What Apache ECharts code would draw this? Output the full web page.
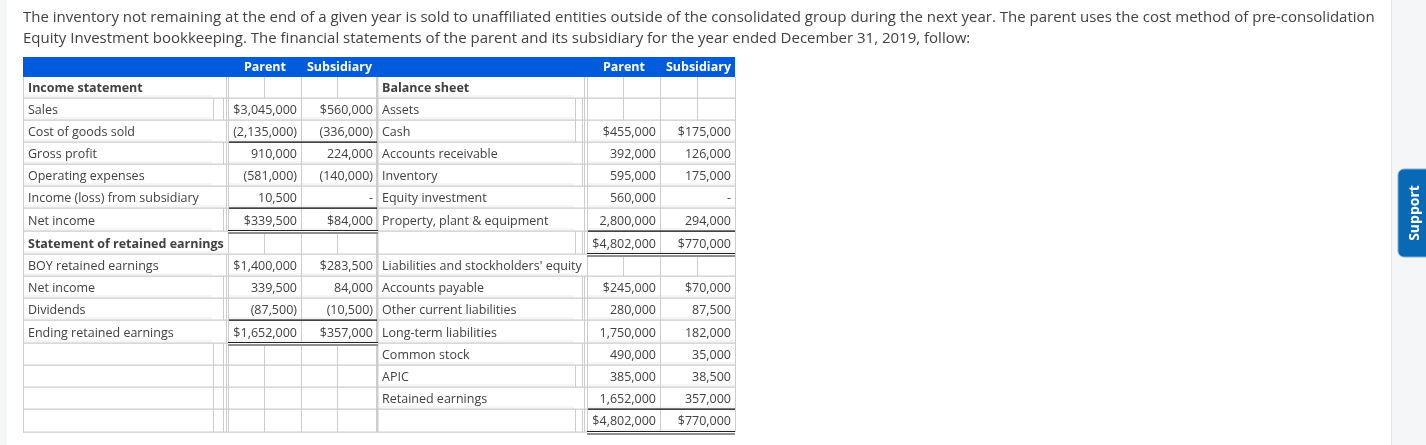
<!DOCTYPE html>
<html lang="en">
<head>
<meta charset="UTF-8">
<title>Consolidation worksheet</title>
<script src="https://cdn.jsdelivr.net/npm/echarts@6/dist/echarts.min.js"></script>
<style>
html, body { margin: 0; padding: 0; background: #fff; }
#main { width: 1426px; height: 445px; }
</style>
</head>
<body>
<div id="main"></div>
<script>
// table content
var introLines = [
    'The inventory not remaining at the end of a given year is sold to unaffiliated entities outside of the consolidated group during the next year. The parent uses the cost method of pre-consolidation',
    'Equity Investment bookkeeping. The financial statements of the parent and its subsidiary for the year ended December 31, 2019, follow:'
];
var headerLabels = ['Parent', 'Subsidiary', 'Parent', 'Subsidiary'];
var incomeLabels = ['Income statement', 'Sales', 'Cost of goods sold', 'Gross profit', 'Operating expenses', 'Income (loss) from subsidiary', 'Net income',
    'Statement of retained earnings', 'BOY retained earnings', 'Net income', 'Dividends', 'Ending retained earnings', '', '', '', ''];
var incomeParent = ['', '$3,045,000', '(2,135,000)', '910,000', '(581,000)', '10,500', '$339,500',
    '', '$1,400,000', '339,500', '(87,500)', '$1,652,000', '', '', '', ''];
var incomeSubsidiary = ['', '$560,000', '(336,000)', '224,000', '(140,000)', '-', '$84,000',
    '', '$283,500', '84,000', '(10,500)', '$357,000', '', '', '', ''];
var balanceLabels = ['Balance sheet', 'Assets', 'Cash', 'Accounts receivable', 'Inventory', 'Equity investment', 'Property, plant & equipment', '',
    "Liabilities and stockholders' equity", 'Accounts payable', 'Other current liabilities', 'Long-term liabilities', 'Common stock', 'APIC', 'Retained earnings', ''];
var balanceParent = ['', '', '$455,000', '392,000', '595,000', '560,000', '2,800,000', '$4,802,000',
    '', '$245,000', '280,000', '1,750,000', '490,000', '385,000', '1,652,000', '$4,802,000'];
var balanceSubsidiary = ['', '', '$175,000', '126,000', '175,000', '-', '294,000', '$770,000',
    '', '$70,000', '87,500', '182,000', '35,000', '38,500', '357,000', '$770,000'];
var supportLabel = 'Support';

// layout of the table, in page pixels
var rowEdges = [77, 98, 120, 142, 164, 186, 208, 231, 254, 276, 298, 320, 343, 365, 387, 409, 432];
var headerTop = 57;
var boldRows = [0, 7];
var leftExtra = [[226], [213, 223, 226], [226], [223, 226], [226], [226], [223, 226], [], [226], [223, 226], [223, 226], [226], [213, 223, 226], [213, 223, 226], [213, 223, 226], [213, 223, 226]];
var rightExtra = [[584], [575, 582, 584], [575, 582, 584], [582, 584], [582, 584], [584], [584], [575, 582, 584], [], [582, 584], [582, 584], [584], [582, 584], [575, 582, 584], [584], [575, 582, 584]];
var leftSubRows = [0, 7, 12, 13, 14, 15];
var rightSubRows = [0, 1, 8];
var singleRules = [[229, 377, 142], [229, 377, 208], [229, 377, 320], [588, 735, 231], [588, 735, 409]];
var doubleRules = [[228, 378, 231], [228, 378, 343], [587, 735, 254], [587, 735, 432]];

var GRID = '#cdcdcd', INK = '#414141', BAND = '#f6f6f6', BLUE = '#005cdc';
var FONT = '"Open Sans", sans-serif';

var rects = [];   // x, y, w, h, color
var texts = [];   // x, y, text, align, font

function addRect(x, y, w, h, c) { rects.push([x, y, w, h, c]); }
function addText(x, y, s, align, font) { if (s) texts.push([x, y, s, align, font]); }

addRect(23, headerTop, 712, rowEdges[0] - headerTop, BLUE);

rowEdges.slice(0, -1).forEach(function (rowTop, i) {
    var rowBottom = rowEdges[i + 1];
    // first and last rows sit a pixel higher than the others
    var mid = (rowTop + rowBottom) / 2 + (i === 0 || i === 15 ? 0.5 : 1.5);
    var font = boldRows.indexOf(i) >= 0 ? 'bold 12.5px ' + FONT : '12.5px ' + FONT;
    var plain = '12.5px ' + FONT;

    // faint band under cells that hold a value
    if (incomeLabels[i]) addRect(24, rowBottom - 3, (incomeLabels[i].length > 24 ? 203 : 188), 3, BAND);
    if (incomeParent[i]) { addRect(229, rowBottom - 3, 72, 3, BAND); addRect(302, rowBottom - 3, 75, 3, BAND); }
    if (balanceLabels[i]) addRect(379, rowBottom - 3, 195, 3, BAND);
    if (balanceParent[i]) { addRect(588, rowBottom - 3, 72, 3, BAND); addRect(661, rowBottom - 3, 74, 3, BAND); }

    // verticals
    [23, 228, 301, 587, 660, 735].concat(leftExtra[i], rightExtra[i]).forEach(function (x) {
        addRect(x, rowTop, 1, rowBottom - rowTop, GRID);
    });
    addRect(376, rowTop, 2.5, rowBottom - rowTop, GRID);
    if (leftSubRows.indexOf(i) >= 0) { addRect(264, rowTop, 1, rowBottom - rowTop, GRID); addRect(337, rowTop, 1, rowBottom - rowTop, GRID); }
    if (rightSubRows.indexOf(i) >= 0) { addRect(623, rowTop, 1, rowBottom - rowTop, GRID); addRect(697, rowTop, 1, rowBottom - rowTop, GRID); }

    addText(28, mid, incomeLabels[i], 'left', font);
    addText(297, mid, incomeParent[i], 'right', plain);
    addText(373, mid, incomeSubsidiary[i], 'right', plain);
    addText(382, mid, balanceLabels[i], 'left', font);
    addText(656, mid, balanceParent[i], 'right', plain);
    addText(731, mid, balanceSubsidiary[i], 'right', plain);
});
rowEdges.forEach(function (y, k) {
    if (k > 0) addRect(23, y - 0.5, 712, 1.2, GRID);
});
singleRules.forEach(function (r) { addRect(r[0], r[2] - 0.5, r[1] - r[0], 1.3, '#111'); });
doubleRules.forEach(function (r) {
    addRect(r[0], r[2] - 1, r[1] - r[0], 4, '#fff');
    addRect(r[0], r[2] - 1, r[1] - r[0], 1, '#222');
    addRect(r[0], r[2] + 1.5, r[1] - r[0], 1, '#222');
});

var headerFont = 'bold 12.5px ' + FONT;
var headerStart = texts.length;
addText(286, 67, headerLabels[0], 'right', headerFont);
addText(372, 67, headerLabels[1], 'right', headerFont);
addText(645, 67, headerLabels[2], 'right', headerFont);
addText(731, 67, headerLabels[3], 'right', headerFont);

addText(23, 17.5, introLines[0], 'left', '15px ' + FONT);
addText(23, 39, introLines[1], 'left', '15px ' + FONT);

var myChart = echarts.init(document.getElementById('main'));

myChart.setOption({
    animation: false,
    backgroundColor: '#fff',
    grid: { left: 0, right: 0, top: 0, bottom: 0 },
    xAxis: { type: 'value', min: 0, max: 1426, show: false },
    yAxis: { type: 'value', min: 0, max: 445, inverse: true, show: false },
    graphic: [
        { type: 'rect', z: 0, shape: { x: 0, y: 0, width: 7, height: 445 }, style: { fill: '#f5f6f8' } },
        { type: 'rect', z: 0, shape: { x: 1392, y: 0, width: 34, height: 445 }, style: { fill: '#f5f6f8' } },
        { type: 'rect', z: 0, shape: { x: 1391, y: 0, width: 1, height: 445 }, style: { fill: '#e2e2e2' } },
        { type: 'rect', z: 10, shape: { x: 1398, y: 169, width: 40, height: 88, r: 6 }, style: { fill: '#0a69b4', stroke: '#7fb0d8', lineWidth: 1 } },
        { type: 'text', z: 11, x: 1415, y: 213, rotation: Math.PI / 2,
          style: { text: supportLabel, fill: '#fff', font: 'bold 14px ' + FONT, align: 'center', verticalAlign: 'middle' } }
    ],
    series: [
        {
            type: 'custom',
            coordinateSystem: 'cartesian2d',
            silent: true,
            data: rects.map(function (r) { return [r[0], r[1], r[2], r[3]]; }),
            renderItem: function (params, api) {
                var p = api.coord([api.value(0), api.value(1)]);
                return {
                    type: 'rect',
                    shape: { x: p[0], y: p[1], width: api.value(2), height: api.value(3) },
                    style: { fill: rects[params.dataIndex][4] }
                };
            }
        },
        {
            type: 'custom',
            coordinateSystem: 'cartesian2d',
            silent: true,
            z: 5,
            data: texts.map(function (t) { return [t[0], t[1]]; }),
            renderItem: function (params, api) {
                var t = texts[params.dataIndex];
                var p = api.coord([api.value(0), api.value(1)]);
                var isHeader = params.dataIndex >= headerStart && params.dataIndex < headerStart + 4;
                return {
                    type: 'text',
                    x: p[0],
                    y: p[1],
                    style: { text: t[2], font: t[4], align: t[3], verticalAlign: 'middle', fill: isHeader ? '#fff' : INK }
                };
            }
        }
    ]
});
</script>
</body>
</html>
